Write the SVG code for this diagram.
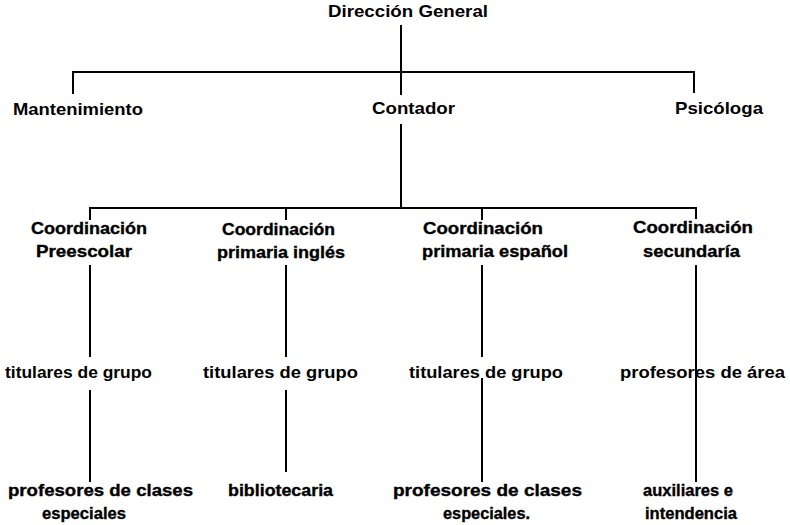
<svg xmlns="http://www.w3.org/2000/svg" width="790" height="525" viewBox="0 0 790 525">
<style>
.t{font-family:"Liberation Sans",Arial,Helvetica,sans-serif;font-weight:bold;font-size:17px;fill:#000}
.w{font-family:"Liberation Sans",Arial,Helvetica,sans-serif;font-weight:bold;font-size:16.5px;fill:#000;stroke:#000;stroke-width:0.35}
.c{stroke:#000;stroke-width:2;fill:none}
</style>
<rect width="790" height="525" fill="#fff"/>
<g id="connectors">
<path class="c" d="M401 25V95"/>
<path class="c" d="M73 94V72H694V93"/>
<path class="c" d="M401 124V208"/>
<path class="c" d="M90 220V208H696V219"/>
<path class="c" d="M286 208V220"/>
<path class="c" d="M482 208V220"/>
<path class="c" d="M90 265V357"/>
<path class="c" d="M286 265V357"/>
<path class="c" d="M482 265V357"/>
<path class="c" d="M696 265V482"/>
<path class="c" d="M90 390V482"/>
<path class="c" d="M286 390V472"/>
<path class="c" d="M482 378V482"/>
</g>
<g id="direccion"><text class="t" x="328" y="17" textLength="160" lengthAdjust="spacingAndGlyphs">Dirección General</text></g>
<g id="mantenimiento"><text class="t" x="13" y="115" textLength="130" lengthAdjust="spacingAndGlyphs">Mantenimiento</text></g>
<g id="contador"><text class="t" x="372" y="114" textLength="83" lengthAdjust="spacingAndGlyphs">Contador</text></g>
<g id="psicologa"><text class="t" x="675" y="114" textLength="88" lengthAdjust="spacingAndGlyphs">Psicóloga</text></g>
<g id="coord-preescolar">
<text class="w" x="31" y="234" textLength="116" lengthAdjust="spacingAndGlyphs">Coordinación</text>
<text class="w" x="36" y="257" textLength="96" lengthAdjust="spacingAndGlyphs">Preescolar</text>
</g>
<g id="coord-ingles">
<text class="w" x="222" y="235" textLength="113" lengthAdjust="spacingAndGlyphs">Coordinación</text>
<text class="w" x="217" y="258" textLength="128" lengthAdjust="spacingAndGlyphs">primaria inglés</text>
</g>
<g id="coord-espanol">
<text class="w" x="423" y="234" textLength="120" lengthAdjust="spacingAndGlyphs">Coordinación</text>
<text class="w" x="422" y="257" textLength="146" lengthAdjust="spacingAndGlyphs">primaria español</text>
</g>
<g id="coord-secundaria">
<text class="w" x="633" y="233" textLength="120" lengthAdjust="spacingAndGlyphs">Coordinación</text>
<text class="w" x="643" y="257" textLength="97" lengthAdjust="spacingAndGlyphs">secundaría</text>
</g>
<g id="titulares-1"><text class="t" x="5" y="378" textLength="147" lengthAdjust="spacingAndGlyphs">titulares de grupo</text></g>
<g id="titulares-2"><text class="t" x="203" y="378" textLength="155" lengthAdjust="spacingAndGlyphs">titulares de grupo</text></g>
<g id="titulares-3"><text class="t" x="409" y="378" textLength="154" lengthAdjust="spacingAndGlyphs">titulares de grupo</text></g>
<g id="profesores-area"><text class="t" x="620" y="378" textLength="165" lengthAdjust="spacingAndGlyphs">profesores de área</text></g>
<g id="profesores-clases-1">
<text class="w" x="8" y="496" textLength="185" lengthAdjust="spacingAndGlyphs">profesores de clases</text>
<text class="w" x="42" y="519" textLength="84" lengthAdjust="spacingAndGlyphs">especiales</text>
</g>
<g id="bibliotecaria"><text class="w" x="228" y="496" textLength="105" lengthAdjust="spacingAndGlyphs">bibliotecaria</text></g>
<g id="profesores-clases-2">
<text class="w" x="393" y="496" textLength="189" lengthAdjust="spacingAndGlyphs">profesores de clases</text>
<text class="w" x="443" y="519" textLength="87" lengthAdjust="spacingAndGlyphs">especiales.</text>
</g>
<g id="auxiliares">
<text class="w" x="643" y="496" textLength="90" lengthAdjust="spacingAndGlyphs">auxiliares e</text>
<text class="w" x="645" y="519" textLength="92" lengthAdjust="spacingAndGlyphs">intendencia</text>
</g>
</svg>
